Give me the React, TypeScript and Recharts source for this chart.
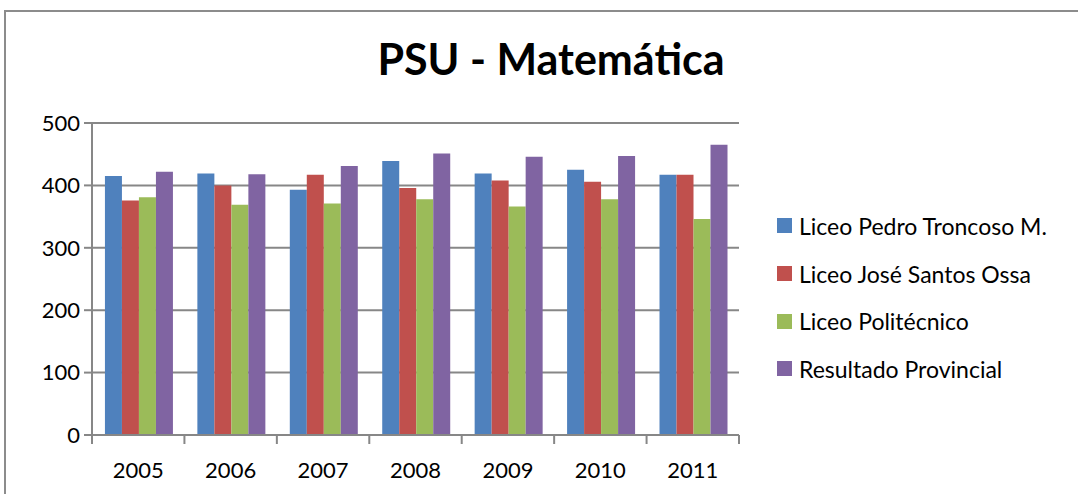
import { BarChart, Bar, XAxis, YAxis, CartesianGrid } from "recharts";

const YEARS = ["2005", "2006", "2007", "2008", "2009", "2010", "2011"];
const PEDRO_TRONCOSO = [415, 419, 393, 439, 419, 425, 417];
const JOSE_SANTOS_OSSA = [376, 400, 417, 396, 408, 406, 417];
const POLITECNICO = [381, 369, 371, 378, 366, 378, 346];
const PROVINCIAL = [422, 418, 431, 451, 446, 447, 465];
const Y_TICKS = [0, 100, 200, 300, 400, 500];

const SERIES = [
  { key: "pedro", name: "Liceo Pedro Troncoso M.", color: "#4F81BD" },
  { key: "jose", name: "Liceo José Santos Ossa", color: "#C0504D" },
  { key: "poli", name: "Liceo Politécnico", color: "#9BBB59" },
  { key: "prov", name: "Resultado Provincial", color: "#8064A2" },
];

const data = YEARS.map((year, i) => ({
  year,
  pedro: PEDRO_TRONCOSO[i],
  jose: JOSE_SANTOS_OSSA[i],
  poli: POLITECNICO[i],
  prov: PROVINCIAL[i],
}));

const FONT = "Lato, 'Open Sans', sans-serif";
const GRID = "#878787";
const PLOT_LEFT = 86;
const PLOT_RIGHT = 733;
const BAND = (PLOT_RIGHT - PLOT_LEFT) / YEARS.length;

function YearTick({ x, y, payload, index }: any) {
  const half = BAND / 2;
  const axisY = y - 8;
  return (
    <g>
      <line x1={x - half} x2={x - half} y1={axisY} y2={axisY + 9} stroke={GRID} strokeWidth={2} />
      {index === YEARS.length - 1 && (
        <line x1={x + half} x2={x + half} y1={axisY} y2={axisY + 9} stroke={GRID} strokeWidth={2} />
      )}
      <text x={x} y={y + 35} textAnchor="middle" fontSize={22} fill="#000" fontFamily={FONT}>
        {payload.value}
      </text>
    </g>
  );
}

export default function App() {
  return (
    <div
      style={{
        position: "absolute",
        left: 4,
        top: 10,
        width: 1090,
        height: 500,
        border: "2px solid #8c8c8c",
        boxSizing: "border-box",
        background: "#fff",
        fontFamily: FONT,
      }}
    >
      <div
        style={{
          position: "absolute",
          left: 0,
          width: 1090,
          top: 21,
          textAlign: "center",
          fontSize: 43,
          fontWeight: 700,
          color: "#000",
        }}
      >
        PSU - Matemática
      </div>
      <BarChart
        width={1080}
        height={480}
        data={data}
        margin={{ top: 111, right: 1080 - PLOT_RIGHT, bottom: 0, left: 0 }}
        barCategoryGap="14%"
        barGap={0}
      >
        <CartesianGrid vertical={false} stroke={GRID} strokeWidth={2} />
        <XAxis
          dataKey="year"
          height={57}
          axisLine={{ stroke: GRID, strokeWidth: 2 }}
          tickLine={false}
          tick={<YearTick />}
          interval={0}
        />
        <YAxis
          width={PLOT_LEFT}
          domain={[0, 500]}
          ticks={Y_TICKS}
          axisLine={{ stroke: GRID, strokeWidth: 2 }}
          tickLine={{ stroke: GRID, strokeWidth: 2 }}
          tickSize={8}
          tickMargin={4}
          tick={{ fontSize: 22, fill: "#000", fontFamily: FONT }}
        />
        {SERIES.map((s) => (
          <Bar key={s.key} dataKey={s.key} name={s.name} fill={s.color} isAnimationActive={false} />
        ))}
      </BarChart>
      <div style={{ position: "absolute", left: 771, top: 190 }}>
        {SERIES.map((s) => (
          <div key={s.key} style={{ display: "flex", alignItems: "center", height: 47.7, fontSize: 23, color: "#000" }}>
            <span style={{ width: 15, height: 15, background: s.color, marginRight: 7, display: "inline-block" }} />
            {s.name}
          </div>
        ))}
      </div>
    </div>
  );
}
